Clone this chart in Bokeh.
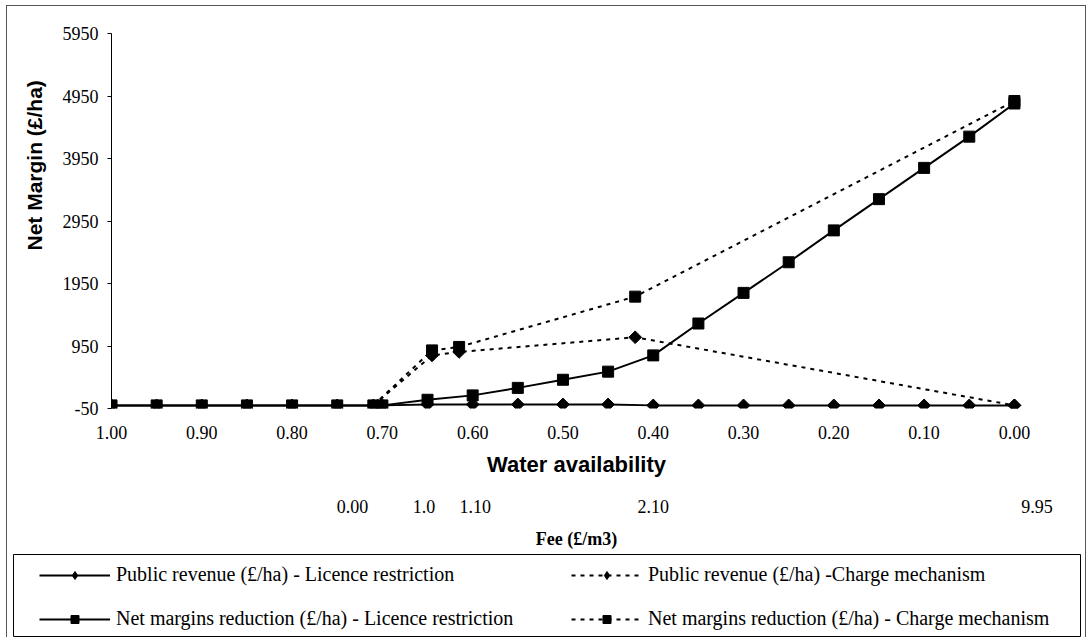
from math import pi

from bokeh.embed import file_html
from bokeh.layouts import column
from bokeh.models import (FixedTicker, Legend, LegendItem, LinearAxis,
                          NumeralTickFormatter, Range1d, Title)
from bokeh.plotting import figure
from bokeh.resources import INLINE

# --- data -------------------------------------------------------------------
# Licence restriction: water availability stepped down by 0.05
licence_avail = [1.00, 0.95, 0.90, 0.85, 0.80, 0.75, 0.70, 0.65, 0.60, 0.55, 0.50,
                 0.45, 0.40, 0.35, 0.30, 0.25, 0.20, 0.15, 0.10, 0.05, 0.00]
licence_revenue = [0, 0, 0, 0, 0, 0, 0, 15, 15, 15, 15,
                   15, 0, 0, 0, 0, 0, 0, 0, 0, 0]
licence_margin_loss = [0, 0, 0, 0, 0, 0, 0, 90, 160, 280, 410,
                       540, 800, 1310, 1800, 2290, 2800, 3300, 3800, 4300, 4830]

# Charge mechanism: availability reached at each abstraction fee
charge_avail = [0.71, 0.645, 0.615, 0.42, 0.00]
charge_fee = ["0.00", "1.0", "1.10", "2.10", "9.95"]
charge_revenue = [0, 800, 855, 1090, 0]
charge_margin_loss = [0, 880, 935, 1740, 4870]

# axis ticks
avail_ticks = [1.0, 0.9, 0.8, 0.7, 0.6, 0.5, 0.4, 0.3, 0.2, 0.1, 0.0]
margin_ticks = [-50, 950, 1950, 2950, 3950, 4950, 5950]
# where each fee value is written along the availability scale
fee_label_at = [0.733, 0.654, 0.597, 0.400, -0.025]

SERIF = "Liberation Serif"
SANS = "Liberation Sans"

# --- main chart -----------------------------------------------------------------
MAIN_W, MAIN_H = 1078, 548
p = figure(width=MAIN_W, height=MAIN_H, output_backend="svg", toolbar_location=None,
           x_range=Range1d(1.0, -0.03), y_range=Range1d(-50, 5950),
           min_border_left=104, min_border_right=44,
           min_border_top=27, min_border_bottom=146,
           background_fill_color="white", border_fill_color="white")
p.frame_align = False
p.outline_line_color = None
p.grid.visible = False

# x axis: water availability
xa = p.xaxis[0]
xa.ticker = FixedTicker(ticks=avail_ticks)
xa.formatter = NumeralTickFormatter(format="0.00")
xa.axis_line_color = None
xa.major_tick_line_color = None
xa.major_tick_out = 0
xa.major_tick_in = 0
xa.minor_tick_line_color = None
xa.major_label_standoff = 17
xa.major_label_text_font = SERIF
xa.major_label_text_font_size = "18px"
xa.major_label_text_color = "black"
xa.axis_label = "Water availability"
xa.axis_label_standoff = 10
xa.axis_label_text_font = SANS
xa.axis_label_text_font_style = "bold"
xa.axis_label_text_font_size = "22px"
xa.axis_label_text_color = "black"

# second x scale: fee charged for each charge-mechanism point
fee_axis = LinearAxis(ticker=FixedTicker(ticks=fee_label_at),
                      major_label_overrides=dict(zip(fee_label_at, charge_fee)),
                      axis_line_color=None, major_tick_line_color=None,
                      major_tick_out=0, major_tick_in=0, minor_tick_line_color=None,
                      major_label_standoff=20, major_label_text_font=SERIF,
                      major_label_text_font_size="18px",
                      major_label_text_color="black",
                      axis_label="Fee (£/m3)", axis_label_standoff=13,
                      axis_label_text_font=SERIF, axis_label_text_font_style="bold",
                      axis_label_text_font_size="18px",
                      axis_label_text_color="black")
p.add_layout(fee_axis, "below")

# y axis: net margin
ya = p.yaxis[0]
ya.ticker = FixedTicker(ticks=margin_ticks)
ya.major_label_overrides = {-50: "-50"}
ya.axis_line_color = "black"
ya.axis_line_width = 1
ya.major_tick_line_color = "black"
ya.major_tick_out = 4
ya.major_tick_in = 0
ya.minor_tick_line_color = None
ya.major_label_standoff = 9
ya.major_label_text_font = SERIF
ya.major_label_text_font_size = "18px"
ya.major_label_text_color = "black"

p.add_layout(Title(text="Net Margin (£/ha)", align="left", vertical_align="top",
                   offset=158, standoff=23,
                   text_font=SANS, text_font_style="bold", text_font_size="21px",
                   text_color="black"), "left")

# --- series -------------------------------------------------------------------
DOT = "4 5"
LW = 2
DIAMOND = dict(marker="square", angle=pi / 4, size=9, color="black")
SQUARE = dict(marker="square", size=11, color="black")

p.line(licence_avail, licence_revenue, line_color="black", line_width=LW)
p.scatter(licence_avail, licence_revenue, **DIAMOND)
p.line(licence_avail, licence_margin_loss, line_color="black", line_width=LW)
p.scatter(licence_avail, licence_margin_loss, **SQUARE)
p.line(charge_avail, charge_revenue, line_color="black", line_width=LW, line_dash=DOT)
p.scatter(charge_avail, charge_revenue, **DIAMOND)
p.line(charge_avail, charge_margin_loss, line_color="black", line_width=LW,
       line_dash=DOT)
p.scatter(charge_avail, charge_margin_loss, **SQUARE)

# --- legend panel ---------------------------------------------------------------
# its own small framed canvas; the series are drawn there again only as legend
# swatches (the x range keeps them out of view)
LEG_W, LEG_H = 1078, 83
leg = figure(width=LEG_W, height=LEG_H, output_backend="svg", toolbar_location=None,
             x_range=Range1d(5, 6), y_range=Range1d(0, 1),
             min_border_left=6, min_border_right=5, min_border_top=0,
             min_border_bottom=1,
             background_fill_color="white", border_fill_color="white")
leg.frame_align = False
leg.axis.visible = False
leg.grid.visible = False
leg.outline_line_color = "black"
leg.outline_line_width = 1

LEG_DIAMOND = dict(marker="diamond", size=14, color="black")

s_lrev = [leg.line(licence_avail, licence_revenue, line_color="black", line_width=LW),
          leg.scatter(licence_avail, licence_revenue, **LEG_DIAMOND)]
s_lnet = [leg.line(licence_avail, licence_margin_loss, line_color="black", line_width=LW),
          leg.scatter(licence_avail, licence_margin_loss, **SQUARE)]
s_crev = [leg.line(charge_avail, charge_revenue, line_color="black", line_width=LW,
                   line_dash=DOT),
          leg.scatter(charge_avail, charge_revenue, **LEG_DIAMOND)]
s_cnet = [leg.line(charge_avail, charge_margin_loss, line_color="black", line_width=LW,
                   line_dash=DOT),
          leg.scatter(charge_avail, charge_margin_loss, **SQUARE)]

ROW_H, ROW_GAP = 20, 21


def make_legend(items, left):
    return Legend(items=items, location=(left, 6),
                  orientation="vertical", glyph_width=71, glyph_height=ROW_H,
                  label_height=ROW_H, spacing=ROW_GAP, label_standoff=6,
                  padding=0, margin=0, border_line_color=None,
                  background_fill_alpha=0, label_text_font=SERIF,
                  label_text_font_size="20px", label_text_color="black")


leg.add_layout(make_legend([
    LegendItem(label="Public revenue (£/ha) - Licence restriction", renderers=s_lrev),
    LegendItem(label="Net margins reduction (£/ha) - Licence restriction",
               renderers=s_lnet),
], 26))
leg.add_layout(make_legend([
    LegendItem(label="Public revenue (£/ha) -Charge mechanism", renderers=s_crev),
    LegendItem(label="Net margins reduction (£/ha) - Charge mechanism",
               renderers=s_cnet),
], 558))

page = column(p, leg, spacing=0, margin=(5, 0, 0, 6),
              styles={"border-left": "1px solid #555555",
                      "border-top": "1px solid #555555",
                      "border-right": "1px solid #555555"})

open("out.html", "w").write(file_html(page, INLINE))
